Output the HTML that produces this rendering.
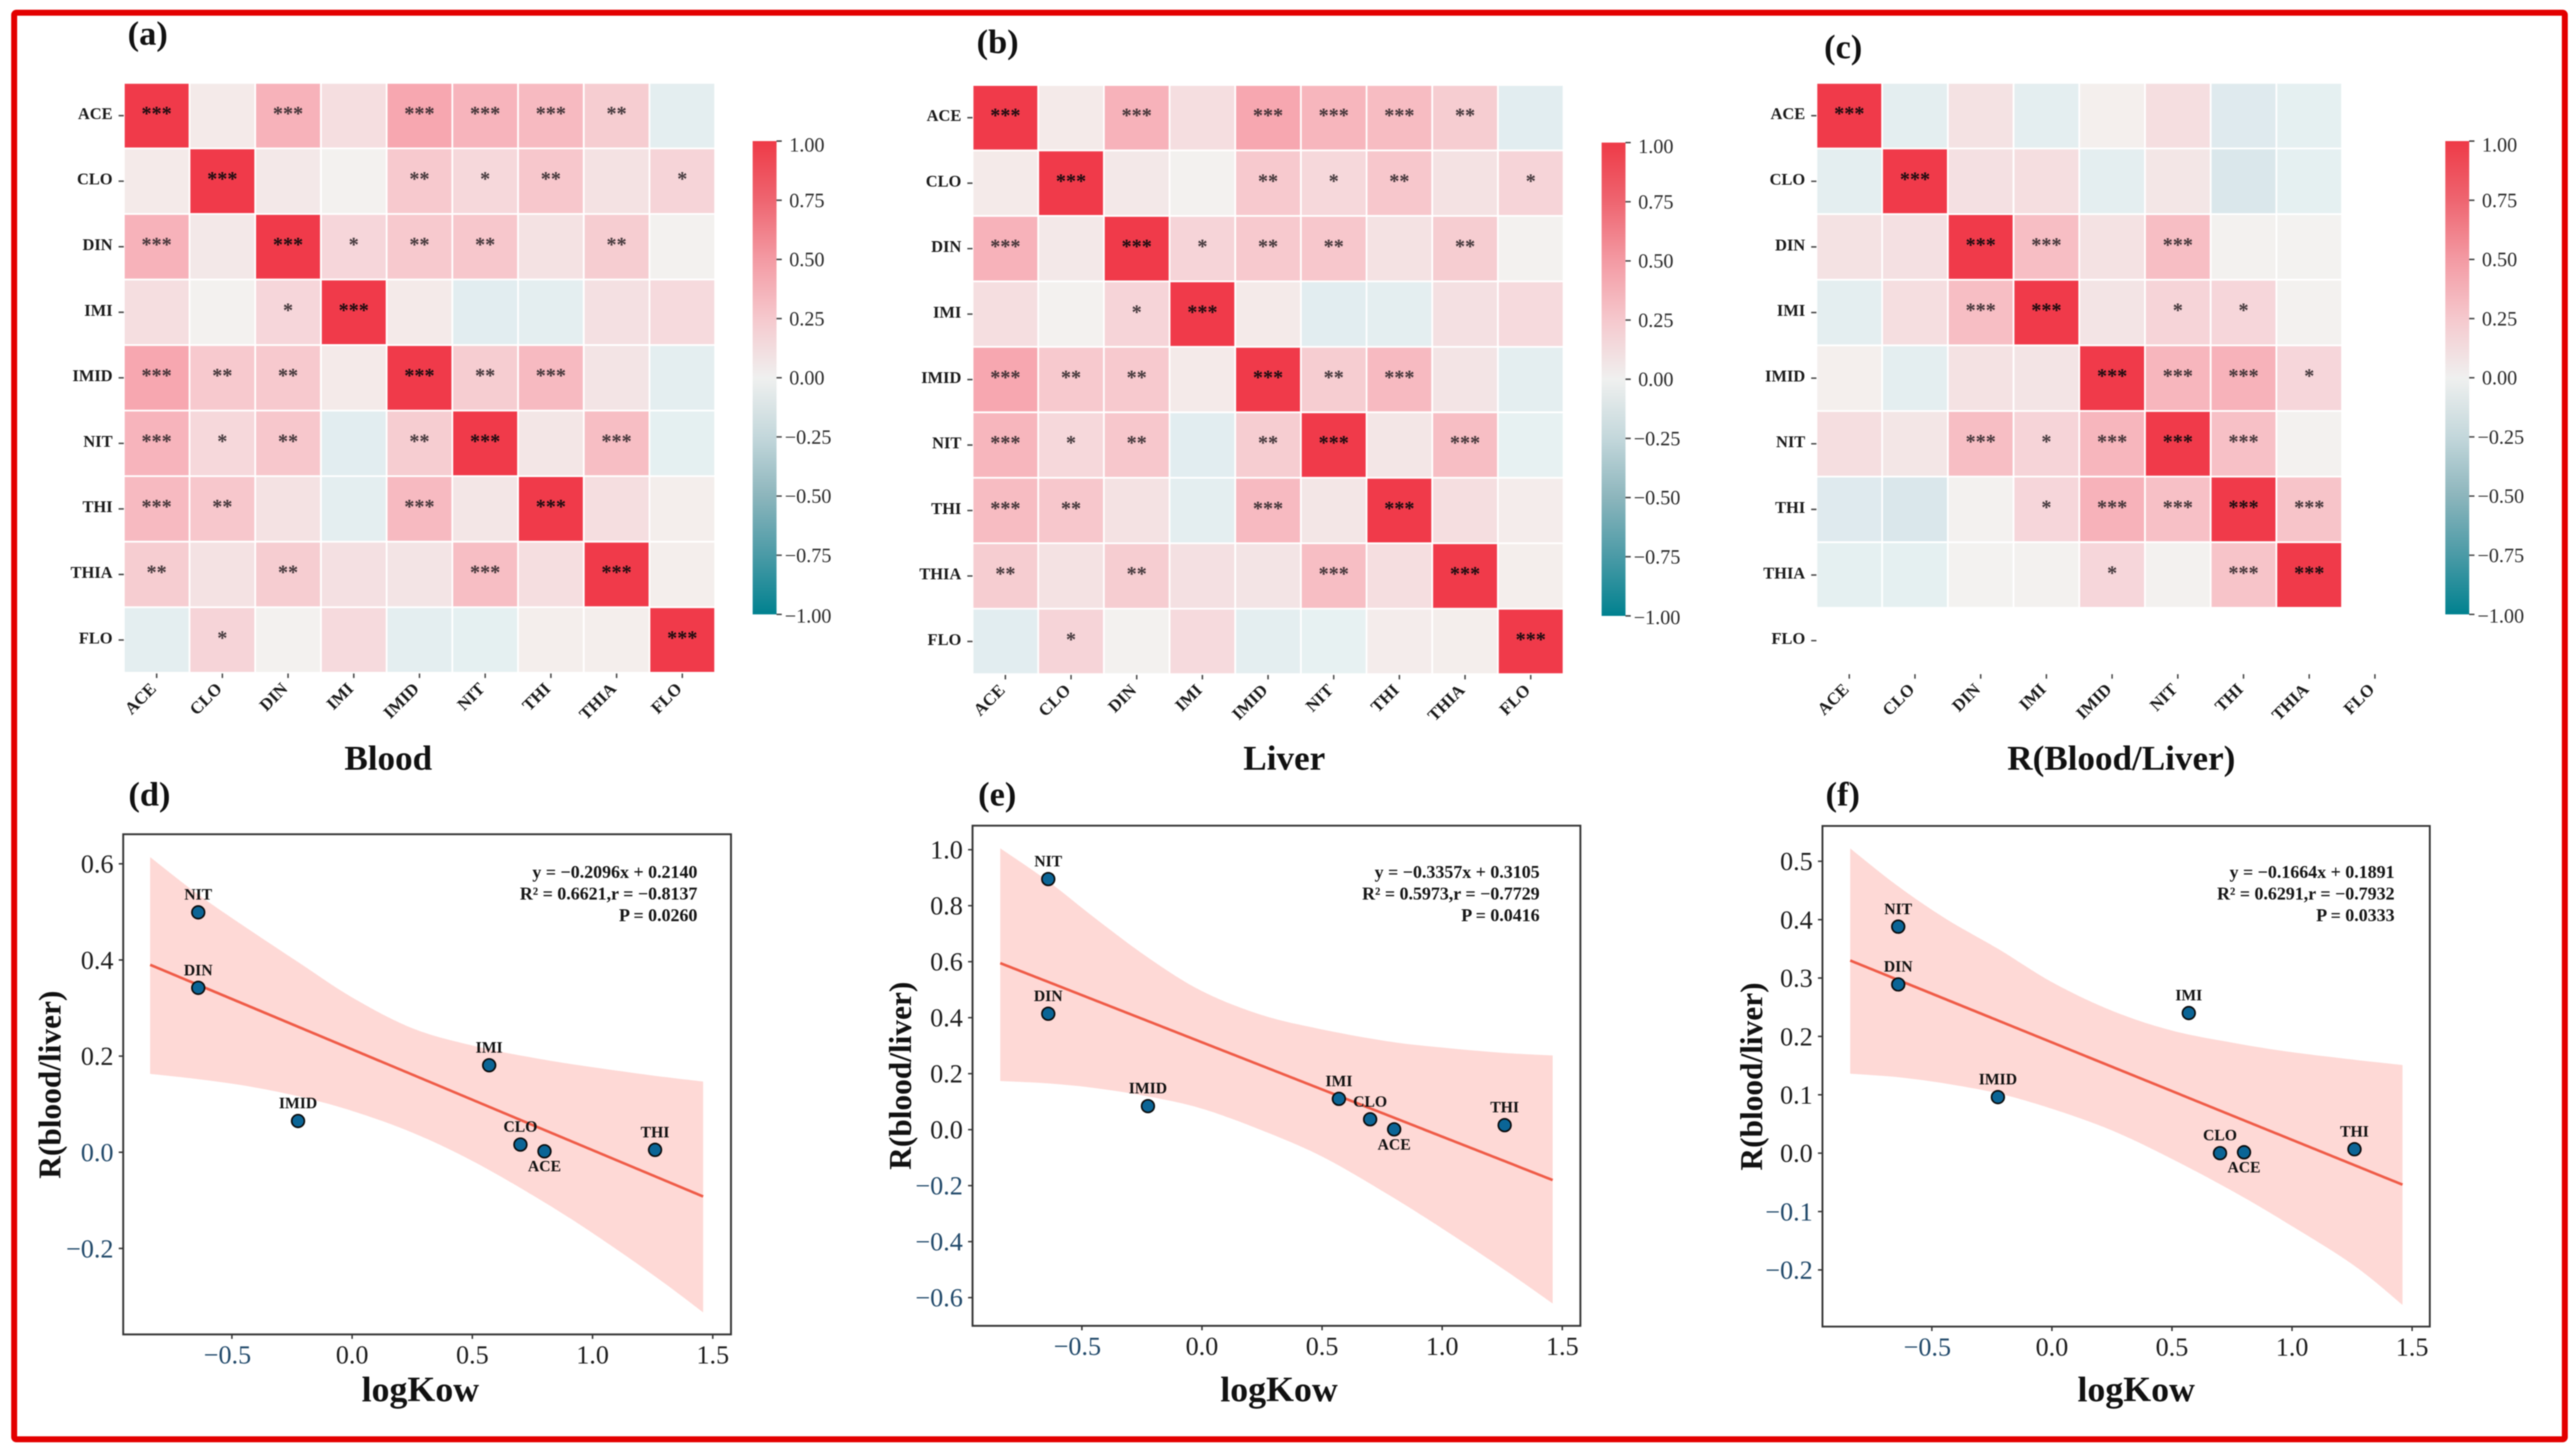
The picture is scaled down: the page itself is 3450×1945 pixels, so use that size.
<!DOCTYPE html>
<html lang="en">
<head>
<meta charset="utf-8">
<title>Correlation heatmaps and logKow regressions</title>
<style>
html,body{margin:0;padding:0;background:#fff;}
svg{display:block;font-family:"Liberation Serif",serif;filter:blur(0.8px);}
.panel{font-weight:bold;font-size:46px;fill:#111;}
.title{font-weight:bold;font-size:47px;fill:#111;text-anchor:middle;}
.xt{font-weight:bold;font-size:48px;fill:#111;text-anchor:middle;}
.yt{font-weight:bold;font-size:42px;fill:#111;text-anchor:middle;}
.ann{font-weight:bold;font-size:24px;fill:#151515;text-anchor:end;}
</style>
</head>
<body>
<svg id="figure" xmlns="http://www.w3.org/2000/svg" width="3450" height="1945" viewBox="0 0 3450 1945">
<defs>
<linearGradient id="cbar" x1="0" y1="0" x2="0" y2="1">
<stop offset="0" stop-color="#ee3a47"/>
<stop offset="0.125" stop-color="#ee6570"/>
<stop offset="0.25" stop-color="#f39aa3"/>
<stop offset="0.375" stop-color="#f5c8cd"/>
<stop offset="0.5" stop-color="#eff0ef"/>
<stop offset="0.625" stop-color="#c3d7db"/>
<stop offset="0.75" stop-color="#8cb5bc"/>
<stop offset="0.875" stop-color="#4a9aa6"/>
<stop offset="1" stop-color="#00818f"/>
</linearGradient>
</defs>
<rect x="0" y="0" width="3450" height="1945" fill="#fff"/>
<rect x="19" y="17" width="3416" height="1911" fill="none" stroke="#e30000" stroke-width="8" rx="3"/>

<text class="panel" x="171" y="60">(a)</text>
<text class="panel" x="1308" y="71">(b)</text>
<text class="panel" x="2443" y="78">(c)</text>
<text class="panel" x="172" y="1079">(d)</text>
<text class="panel" x="1310" y="1079">(e)</text>
<text class="panel" x="2445" y="1079">(f)</text>

<text class="title" x="520" y="1031">Blood</text>
<text class="title" x="1720" y="1031">Liver</text>
<text class="title" x="2841" y="1031">R(Blood/Liver)</text>

<text class="xt" x="563" y="1877">logKow</text>
<text class="xt" x="1713" y="1877">logKow</text>
<text class="xt" x="2861" y="1877">logKow</text>
<text class="yt" transform="translate(81,1453) rotate(-90)">R(blood/liver)</text>
<text class="yt" transform="translate(1220,1441) rotate(-90)">R(blood/liver)</text>
<text class="yt" transform="translate(2360,1442) rotate(-90)">R(blood/liver)</text>

<g id="scatter-d"></g>
<g id="scatter-e"></g>
<g id="scatter-f"></g>
<g id="heat-a"></g>
<g id="heat-b"></g>
<g id="heat-c"></g>

<text class="ann" x="934" y="1176">y = −0.2096x + 0.2140</text>
<text class="ann" x="934" y="1205">R² = 0.6621,r = −0.8137</text>
<text class="ann" x="934" y="1234">P = 0.0260</text>
<text class="ann" x="2062" y="1176">y = −0.3357x + 0.3105</text>
<text class="ann" x="2062" y="1205">R² = 0.5973,r = −0.7729</text>
<text class="ann" x="2062" y="1234">P = 0.0416</text>
<text class="ann" x="3207" y="1176">y = −0.1664x + 0.1891</text>
<text class="ann" x="3207" y="1205">R² = 0.6291,r = −0.7932</text>
<text class="ann" x="3207" y="1234">P = 0.0333</text>
</svg>
<script>
// ---------- heatmap data ----------
const heatCategories = ['ACE','CLO','DIN','IMI','IMID','NIT','THI','THIA','FLO'];
const colorbarTicks = [1, 0.75, 0.5, 0.25, 0, -0.25, -0.5, -0.75, -1];
const bloodCorr = [
 [1,.07,.40,.13,.45,.38,.33,.22,-.07],
 [.07,1,.08,.02,.24,.16,.25,.11,.18],
 [.40,.08,1,.17,.24,.25,.11,.22,.02],
 [.13,.02,.17,1,.07,-.08,-.07,.12,.15],
 [.45,.24,.24,.07,1,.22,.33,.10,-.07],
 [.38,.16,.25,-.08,.22,1,.09,.30,-.06],
 [.33,.25,.11,-.07,.33,.09,1,.13,.05],
 [.22,.11,.22,.12,.10,.30,.13,1,.05],
 [-.07,.18,.02,.15,-.07,-.06,.05,.05,1]
];
const liverCorr = [
 [1,.07,.40,.13,.45,.37,.32,.22,-.08],
 [.07,1,.08,.02,.24,.16,.25,.11,.18],
 [.40,.08,1,.18,.24,.25,.11,.22,.02],
 [.13,.02,.18,1,.07,-.08,-.07,.12,.15],
 [.45,.24,.24,.07,1,.22,.33,.10,-.07],
 [.37,.16,.25,-.08,.22,1,.09,.30,-.05],
 [.32,.25,.11,-.07,.33,.09,1,.13,.06],
 [.22,.11,.22,.12,.10,.30,.13,1,.05],
 [-.08,.18,.02,.15,-.07,-.05,.06,.05,1]
];
const ratioCorr = [
 [1,-.07,.11,-.07,.04,.13,-.10,-.06,null],
 [-.07,1,.12,.13,-.07,.09,-.13,-.06,null],
 [.11,.12,1,.30,.11,.30,.02,.01,null],
 [-.07,.13,.30,1,.10,.18,.17,.02,null],
 [.04,-.07,.11,.10,1,.37,.40,.17,null],
 [.13,.09,.30,.18,.37,1,.29,.02,null],
 [-.10,-.13,.02,.17,.40,.29,1,.27,null],
 [-.06,-.06,.01,.02,.17,.02,.27,1,null],
 [null,null,null,null,null,null,null,null,null]
];
const bloodStars = [
 ['***','','***','','***','***','***','**',''],
 ['','***','','','**','*','**','','*'],
 ['***','','***','*','**','**','','**',''],
 ['','','*','***','','','','',''],
 ['***','**','**','','***','**','***','',''],
 ['***','*','**','','**','***','','***',''],
 ['***','**','','','***','','***','',''],
 ['**','','**','','','***','','***',''],
 ['','*','','','','','','','***']
];
const liverStars = [
 ['***','','***','','***','***','***','**',''],
 ['','***','','','**','*','**','','*'],
 ['***','','***','*','**','**','','**',''],
 ['','','*','***','','','','',''],
 ['***','**','**','','***','**','***','',''],
 ['***','*','**','','**','***','','***',''],
 ['***','**','','','***','','***','',''],
 ['**','','**','','','***','','***',''],
 ['','*','','','','','','','***']
];
const ratioStars = [
 ['***','','','','','','','',''],
 ['','***','','','','','','',''],
 ['','','***','***','','***','','',''],
 ['','','***','***','','*','*','',''],
 ['','','','','***','***','***','*',''],
 ['','','***','*','***','***','***','',''],
 ['','','','*','***','***','***','***',''],
 ['','','','','*','','***','***',''],
 ['','','','','','','','','']
];

// ---------- regression data ----------
const compounds = ['NIT','DIN','IMID','IMI','CLO','ACE','THI'];
const logKow = [-0.64,-0.64,-0.225,0.57,0.70,0.80,1.26];
const bandX = [-0.84,-0.64,-0.44,-0.22,0,0.25,0.5,0.77,1,1.26,1.46];
const fitX = [-0.84,1.46];
const xTickValues = [-0.5,0,0.5,1,1.5];

const ratioD = [0.499,0.342,0.065,0.181,0.016,0.002,0.005];
const fitD = [0.390,-0.092];
const upperD = [.614,.536,.467,.394,.322,.258,.222,.195,.177,.159,.147];
const lowerD = [.163,.152,.138,.116,.086,.041,-.018,-.095,-.168,-.258,-.333];
const yTicksD = [0.6,0.4,0.2,0,-0.2];

const ratioE = [0.895,0.414,0.084,0.110,0.037,0.001,0.016];
const fitE = [0.595,-0.180];
const upperE = [1.005,.887,.752,.612,.495,.409,.358,.316,.293,.274,.265];
const lowerE = [.174,.165,.148,.118,.075,-.003,-.096,-.229,-.353,-.501,-.621];
const yTicksE = [1,0.8,0.6,0.4,0.2,0,-0.2,-0.4,-0.6];

const ratioF = [0.388,0.289,0.096,0.240,0.000,0.0015,0.0067];
const fitF = [0.330,-0.054];
const upperF = [.522,.457,.401,.349,.293,.244,.210,.188,.173,.160,.151];
const lowerF = [.136,.130,.119,.102,.076,.039,-.010,-.069,-.125,-.193,-.260];
const yTicksF = [0.5,0.4,0.3,0.2,0.1,0,-0.1,-0.2];

// ---------- helpers ----------
const NS = 'http://www.w3.org/2000/svg';
function make(tag, parent, attrs, text){
  const n = document.createElementNS(NS, tag);
  for (const k in attrs) n.setAttribute(k, attrs[k]);
  if (text !== undefined) n.textContent = text;
  parent.appendChild(n);
  return n;
}
const colormap = [[-1,0,129,143],[-.75,74,154,166],[-.5,140,181,188],[-.25,195,216,222],[-.15,215,229,233],[-.1,223,234,238],[-.05,231,241,242],[0,243,243,241],[.05,244,238,236],[.1,243,228,229],[.15,246,218,221],[.3,247,190,196],[.4,247,178,186],[.5,247,155,165],[.75,242,110,122],[1,240,58,74]];
function colorOf(v){
  for (let i = 1; i < colormap.length; i++){
    if (v <= colormap[i][0]){
      const a = colormap[i-1], b = colormap[i], t = (v-a[0])/(b[0]-a[0]);
      return 'rgb(' + [1,2,3].map(k => Math.round(a[k]+(b[k]-a[k])*t)).join(',') + ')';
    }
  }
  return 'rgb(240,58,74)';
}
function fmtMinus(v, digits){
  const s = Math.abs(v).toFixed(digits);
  return v < 0 ? '\u2212' + s : s;
}
// Catmull-Rom smoothing through an ordered list of [x,y] screen points
function smoothSegments(p){
  let d = '';
  for (let i = 0; i < p.length-1; i++){
    const a = p[Math.max(i-1,0)], b = p[i], c = p[i+1], e = p[Math.min(i+2,p.length-1)];
    d += 'C' + (b[0]+(c[0]-a[0])/6).toFixed(1) + ',' + (b[1]+(c[1]-a[1])/6).toFixed(1) + ' ' +
         (c[0]-(e[0]-b[0])/6).toFixed(1) + ',' + (c[1]-(e[1]-b[1])/6).toFixed(1) + ' ' +
         c[0].toFixed(1) + ',' + c[1].toFixed(1) + ' ';
  }
  return d;
}

// ---------- heatmap ----------
function drawHeatmap(rootId, corr, stars, left, top, cw, ch, barX, barTop, barBottom){
  const root = document.getElementById(rootId);
  const xBand = i => left + i*cw;
  const yBand = j => top + j*ch;
  const n = heatCategories.length;
  corr.forEach((row, j) => row.forEach((v, i) => {
    if (v === null) return;
    const cell = make('rect', root, {x:xBand(i)+1.2, y:yBand(j)+1.2, width:cw-2.4, height:ch-2.4, fill:colorOf(v)});
    
    
    const mark = stars[j][i];
    if (mark){
      const st = make('text', root, {x:xBand(i)+cw/2, y:yBand(j)+ch/2+6, 'text-anchor':'middle', 'font-size':27, 'font-weight':'bold', fill:v>0.9?'#1a0c10':'#2a2226', 'fill-opacity':v>0.9?1:0.88}, mark);
      
      
    }
  }));
  heatCategories.forEach((c, k) => {
    const cx = xBand(k)+cw/2, cy = yBand(k)+ch/2;
    const yTick = make('line', root, {x1:left-7, x2:left, y1:cy, y2:cy, stroke:'#444', 'stroke-width':2});
    
    
    const yLab = make('text', root, {x:left-15, y:cy+4.5, 'text-anchor':'end', 'font-size':22, 'font-weight':'bold', fill:'#1a1a1a'}, c);
    
    
    const by = top + n*ch;
    const xTick = make('line', root, {x1:cx, x2:cx, y1:by+1, y2:by+7, stroke:'#444', 'stroke-width':2});
    
    
    const xLab = make('text', root, {transform:'translate('+(cx-3)+','+(by+19)+') rotate(-45)', 'text-anchor':'end', 'font-size':23, 'font-weight':'bold', fill:'#1a1a1a', 'dominant-baseline':'middle'}, c);
    
    
  });
  const bar = make('rect', root, {x:barX, y:barTop, width:32, height:barBottom-barTop, fill:'url(#cbar)'});
  
  
  const yBar = v => barTop + (1-v)/2*(barBottom-barTop);
  colorbarTicks.forEach(v => {
    const y = yBar(v);
    const t = make('line', root, {x1:barX+32, x2:barX+39, y1:y, y2:y, stroke:'#444', 'stroke-width':2});
    
    
    const nudge = v === 1 ? 5 : (v === -1 ? 2 : 0);
    const lab = make('text', root, {x:v<0?barX+43:barX+49, y:y+9+nudge, 'font-size':27, fill:'#2a2a2a'}, fmtMinus(v,2));
    
    
  });
}

// ---------- scatter ----------
function drawScatter(rootId, values, fit, upper, lower, yTicks, box, x0, ux, y0, uy){
  const root = document.getElementById(rootId);
  const sx = v => x0 + v*ux;
  const sy = v => y0 - v*uy;
  const top = bandX.map((x,i) => [sx(x), sy(upper[i])]);
  const bot = bandX.map((x,i) => [sx(x), sy(lower[i])]).reverse();
  const d = 'M' + top[0][0].toFixed(1) + ',' + top[0][1].toFixed(1) + ' ' + smoothSegments(top) +
            'L' + bot[0][0].toFixed(1) + ',' + bot[0][1].toFixed(1) + ' ' + smoothSegments(bot) + 'Z';
  const band = make('path', root, {d:d, fill:'#fed9d6'});
  
  
  const line = make('line', root, {x1:sx(fitX[0]), y1:sy(fit[0]), x2:sx(fitX[1]), y2:sy(fit[1]), stroke:'#ef5b47', 'stroke-width':3.5});
  
  
  const frame = make('rect', root, {x:box[0], y:box[1], width:box[2]-box[0], height:box[3]-box[1], fill:'none', stroke:'#333', 'stroke-width':2.5});
  
  
  xTickValues.forEach(v => {
    const x = sx(v);
    const t = make('line', root, {x1:x, x2:x, y1:box[3], y2:box[3]+6, stroke:'#333', 'stroke-width':2});
    
    
    const lab = make('text', root, {x:x-(v<0?6:0), y:box[3]+39, 'text-anchor':'middle', 'font-size':35, fill:v<0?'#21496a':'#1c1c1c'}, fmtMinus(v,1));
    
    
  });
  yTicks.forEach(v => {
    const y = sy(v);
    const t = make('line', root, {x1:box[0]-6, x2:box[0], y1:y, y2:y, stroke:'#333', 'stroke-width':2});
    
    
    const tint = v < 0 || (rootId === 'scatter-d' && v === 0);
    const lab = make('text', root, {x:box[0]-13, y:y+12, 'text-anchor':'end', 'font-size':35, fill:tint?'#21496a':'#1c1c1c'}, fmtMinus(v,1));
    
    
  });
  compounds.forEach((c,i) => {
    const px = sx(logKow[i]), py = sy(values[i]);
    const dot = make('circle', root, {cx:px, cy:py, r:8.5, fill:'#0b6596', stroke:'#0a0a0a', 'stroke-width':2.2});
    
    
    const below = c === 'ACE';
    const lab = make('text', root, {x:px, y:below?py+27:py-17, 'text-anchor':'middle', 'font-size':21, 'font-weight':'bold', fill:'#111'}, c);
    
    
  });
}

drawHeatmap('heat-a', bloodCorr, bloodStars, 165.8, 111, 88, 87.8, 1008, 189, 823);
drawHeatmap('heat-b', liverCorr, liverStars, 1302.5, 113.8, 87.95, 87.7, 2145, 191, 825);
drawHeatmap('heat-c', ratioCorr, ratioStars, 2432.7, 111, 88, 87.9, 3275, 189, 823);

drawScatter('scatter-d', ratioD, fitD, upperD, lowerD, yTicksD, [165,1117.5,979,1787.5], 471.6, 322, 1543.5, 644);
drawScatter('scatter-e', ratioE, fitE, upperE, lowerE, yTicksE, [1302.5,1106,2116.6,1776], 1609.8, 321.7, 1513.2, 375);
drawScatter('scatter-f', ratioF, fitF, upperF, lowerF, yTicksF, [2440.8,1106.4,3254.2,1777], 2748.1, 321.6, 1544.7, 782);
</script>
</body>
</html>
